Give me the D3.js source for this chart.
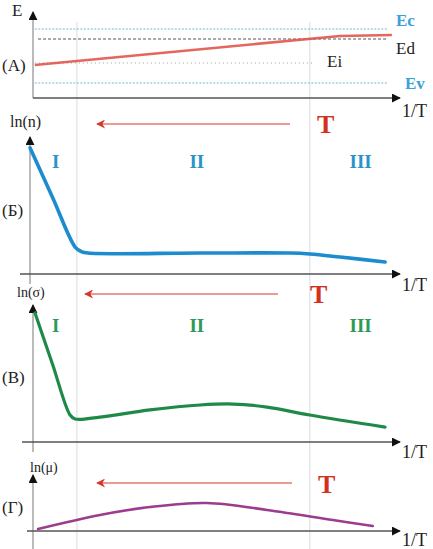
<!DOCTYPE html>
<html lang="ru">
<head>
    <meta charset="UTF-8">
    <title>Полупроводник: E, ln(n), ln(σ), ln(μ) от 1/T</title>
    <script src="https://d3js.org/d3.v7.min.js"></script>
    <style>
        body { margin: 0; background: #fff; }
        svg { display: block; font-family: "Liberation Serif", "DejaVu Serif", serif; }
    </style>
</head>
<body>
    <svg id="chart" width="433" height="549"></svg>
    <script>
        // x is 1/T in arbitrary units 0..100, y of each panel in 0..10
        const regionBounds = [12.2, 76.9];
        const regionLabels = ["I", "II", "III"];

        // (A) energy levels
        const levelNames = ["Ec", "Ed", "Ei", "Ev"];
        const levelValues = [8.02, 6.86, 4.07, 1.74];
        const fermiLevel = [[0.5, 3.84], [85.3, 7.21], [99.7, 7.33]];

        // (Б) ln(n)
        const lnN = [[-0.8, 9.2], [5.5, 5.55], [11.7, 1.97], [13.4, 1.64], [15.3, 1.53], [46.4, 1.53],
                     [71.4, 1.53], [76.9, 1.46], [85.3, 1.24], [97.8, 0.88]];
        // (В) ln(sigma)
        const lnSigma = [[0.56, 9.42], [5.4, 5.7], [10.3, 1.97], [11.7, 1.68], [18.6, 1.82], [32.5, 2.34],
                         [46.4, 2.7], [55.6, 2.77], [65, 2.55], [76.9, 1.97], [97.8, 1.09]];
        // (Г) ln(mu)
        const lnMu = [[1.4, 0.36], [18.6, 2.86], [32.5, 4.29], [48.3, 5], [65, 3.75],
                      [83.3, 1.96], [94.4, 0.89]];

        const svg = d3.select("#chart");
        const x = d3.scaleLinear().domain([0, 100]).range([33, 393]);

        const defs = svg.append("defs");
        defs.append("marker").attr("id", "axisHead").attr("viewBox", "0 0 10 10")
            .attr("refX", 9).attr("refY", 5).attr("markerWidth", 9).attr("markerHeight", 9)
            .attr("markerUnits", "userSpaceOnUse").attr("orient", "auto")
            .append("path").attr("d", "M0,0L10,5L0,10Z").attr("fill", "#111");
        defs.append("marker").attr("id", "redHead").attr("viewBox", "0 0 10 10")
            .attr("refX", 9).attr("refY", 5).attr("markerWidth", 12).attr("markerHeight", 9)
            .attr("markerUnits", "userSpaceOnUse").attr("orient", "auto")
            .append("path").attr("d", "M10,5L0,0L3,5L0,10Z").attr("fill", "#d9362a");

        // region separators spanning every panel
        svg.selectAll(".sep").data(regionBounds).enter().append("line")
            .attr("x1", d => x(d)).attr("x2", d => x(d))
            .attr("y1", 22).attr("y2", 549)
            .attr("stroke", "#cfd3d6").attr("stroke-width", 0.8);

        const panels = [
            {id: "A", base: 98, top: 12, axisLeft: 33, axisX: 33, yEnd: 98, ylabel: "E", ylx: 12, yly: 16, ylSize: 17,
             name: "(A)", ny: 71, oneT: 117},
            {id: "B", base: 274, top: 137, axisLeft: 20, axisX: 30, yEnd: 284, ylabel: "ln(n)", ylx: 10, yly: 127, ylSize: 16,
             name: "(Б)", ny: 216, oneT: 291, data: lnN, color: "#1c8ccf", width: 3.6, roman: "#2b93c9",
             arrowY: 124, arrowX: [290, 97], tx: 317, ty: 133},
            {id: "C", base: 442, top: 305, axisLeft: 22, axisX: 33, yEnd: 452, ylabel: "ln(σ)", ylx: 17, yly: 297, ylSize: 14,
             name: "(В)", ny: 383, oneT: 458, data: lnSigma, color: "#1f8a48", width: 3.2, roman: "#2e9a58",
             arrowY: 294, arrowX: [278, 85], tx: 310, ty: 303},
            {id: "D", base: 531, top: 475, axisLeft: 27, axisX: 33, yEnd: 549, ylabel: "ln(μ)", ylx: 30, yly: 472, ylSize: 14,
             name: "(Г)", ny: 513, oneT: 546, data: lnMu, color: "#9b3c8e", width: 2.6,
             arrowY: 483, arrowX: [292, 97], tx: 318, ty: 493}
        ];

        panels.forEach(p => {
            const y = d3.scaleLinear().domain([0, 10]).range([p.base, p.top]);
            const g = svg.append("g").attr("id", "panel-" + p.id);

            // axes with arrows
            g.append("line").attr("x1", p.axisX).attr("x2", p.axisX).attr("y1", p.yEnd).attr("y2", p.top)
                .attr("stroke", "#777").attr("stroke-width", 1).attr("marker-end", "url(#axisHead)");
            g.append("line").attr("x1", p.axisLeft).attr("x2", 400).attr("y1", p.base).attr("y2", p.base)
                .attr("stroke", "#555").attr("stroke-width", 1.3).attr("marker-end", "url(#axisHead)");

            g.append("text").attr("x", p.ylx).attr("y", p.yly).attr("font-size", p.ylSize).attr("fill", "#222").text(p.ylabel);
            g.append("text").attr("x", 2).attr("y", p.ny).attr("font-size", 17).attr("fill", "#222").text(p.name);
            g.append("text").attr("x", 402).attr("y", p.oneT).attr("font-size", 18).attr("fill", "#222").text("1/T");

            if (p.id === "A") {
                // energy levels
                const styles = {
                    Ec: {stroke: "#9fd0ea", dash: "2,1.5", x0: 0.5, x1: 98.5, w: 1.4},
                    Ed: {stroke: "#555", dash: "3,2", x0: 1.4, x1: 98.5, w: 1},
                    Ei: {stroke: "#999", dash: "1,3", x0: 0.5, x1: 77.5, w: 1},
                    Ev: {stroke: "#9fd0ea", dash: "2,1.5", x0: 0.5, x1: 98.5, w: 1.4}
                };
                levelNames.forEach((n, i) => {
                    const s = styles[n];
                    g.append("line").attr("x1", x(s.x0)).attr("x2", x(s.x1))
                        .attr("y1", y(levelValues[i])).attr("y2", y(levelValues[i]))
                        .attr("stroke", s.stroke).attr("stroke-width", s.w).attr("stroke-dasharray", s.dash);
                });
                const labelPos = {Ec: [396, 26, "#3aa0dc", "bold"], Ed: [396, 54, "#222", "normal"],
                                  Ei: [327, 67, "#222", "normal"], Ev: [405, 89, "#3aa0dc", "bold"]};
                levelNames.forEach(n => {
                    const l = labelPos[n];
                    g.append("text").attr("x", l[0]).attr("y", l[1]).attr("font-size", 17)
                        .attr("fill", l[2]).attr("font-weight", l[3]).text(n);
                });
                g.append("path").datum(fermiLevel)
                    .attr("d", d3.line().x(d => x(d[0])).y(d => y(d[1])))
                    .attr("fill", "none").attr("stroke", "#e0574c").attr("stroke-width", 2.6).attr("opacity", 0.9);
                return;
            }

            // temperature arrow
            g.append("line").attr("x1", p.arrowX[0]).attr("x2", p.arrowX[1])
                .attr("y1", p.arrowY).attr("y2", p.arrowY)
                .attr("stroke", "#e37a70").attr("stroke-width", 1.3).attr("marker-end", "url(#redHead)");
            g.append("text").attr("x", p.tx).attr("y", p.ty).attr("font-size", 26).attr("font-weight", "bold")
                .attr("fill", "#d3301f").text("T");

            if (p.roman) {
                const mids = [6.3, 45.5, 91];
                const ry = p.id === "B" ? 168 : 332;
                g.selectAll(".roman").data(regionLabels).enter().append("text")
                    .attr("x", (d, i) => x(mids[i])).attr("y", ry).attr("text-anchor", "middle")
                    .attr("font-size", 19).attr("font-weight", "bold").attr("fill", p.roman).text(d => d);
            }

            g.append("path").datum(p.data)
                .attr("d", d3.line().x(d => x(d[0])).y(d => y(d[1])).curve(d3.curveCatmullRom.alpha(0.5)))
                .attr("fill", "none").attr("stroke", p.color).attr("stroke-width", p.width)
                .attr("stroke-linecap", "round").attr("stroke-linejoin", "round");
        });
    </script>
</body>
</html>
